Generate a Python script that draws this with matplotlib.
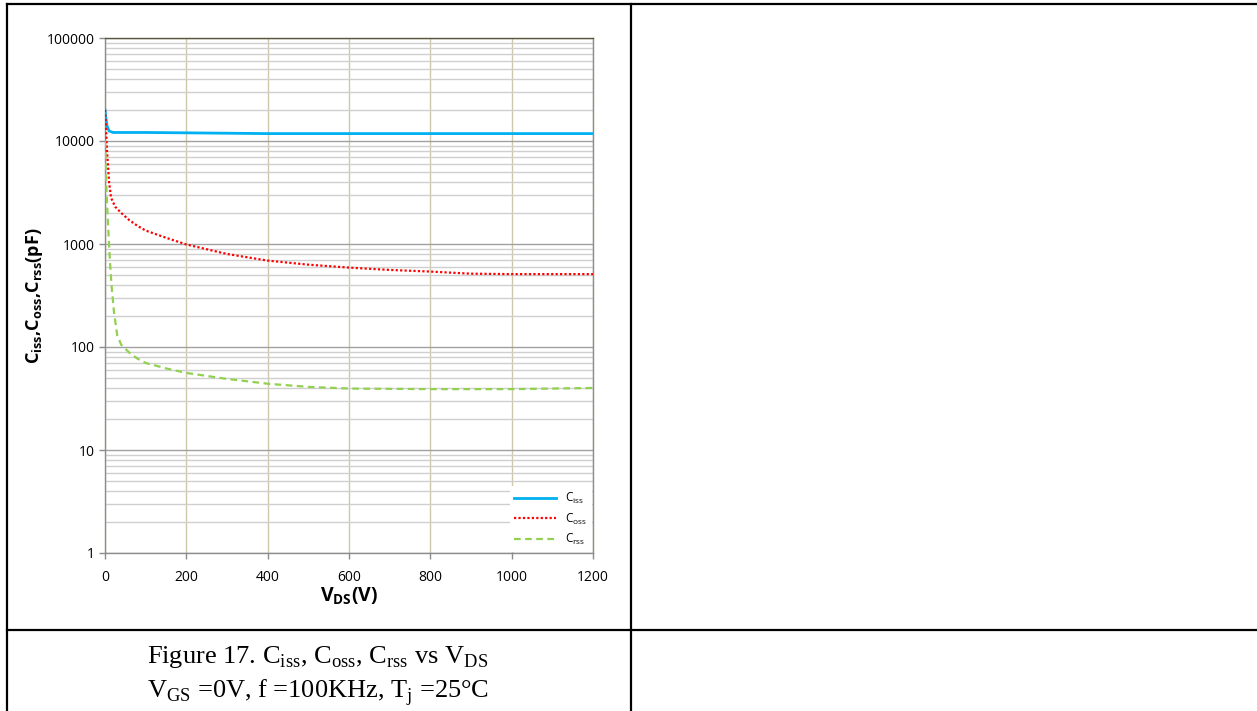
import numpy as np
import matplotlib.pyplot as plt
from matplotlib.lines import Line2D
from matplotlib.ticker import LogLocator, NullFormatter, FixedLocator

# ============================================================
# Plot settings
# ============================================================
plt.rcParams['font.family'] = ['Open Sans', 'DejaVu Sans']
plt.rcParams['axes.linewidth'] = 1.0

# ============================================================
# Data
# ============================================================
vds_iss = [0, 2, 5, 10, 20, 50, 100, 200, 400, 600, 800, 1000, 1200]
c_iss = [20000, 17000, 14000, 12500, 12100, 12100, 12100, 12000, 11800, 11800, 11800, 11800, 11800]

vds_oss = [0, 2, 5, 10, 15, 25, 40, 60, 80, 100, 150, 200, 300, 400, 500, 600, 700, 800, 900, 1000, 1100, 1200]
c_oss = [20000, 15000, 8000, 4000, 2800, 2300, 2000, 1700, 1500, 1350, 1150, 990, 800, 690, 630, 590,
         560, 540, 515, 510, 510, 510]

vds_rss = [0, 2, 5, 8, 12, 16, 22, 30, 40, 60, 80, 100, 150, 200, 300, 400, 500, 600, 800, 1000, 1200]
c_rss = [10000, 5000, 2500, 1400, 700, 400, 220, 130, 105, 88, 77, 70, 62, 56, 49, 44, 41, 39.5, 39, 39, 40]

x_ticks = [0, 200, 400, 600, 800, 1000, 1200]
y_ticks = [1, 10, 100, 1000, 10000, 100000]
y_ticklabels = ["1", "10", "100", "1000", "10000", "100000"]

series_labels = [r"C$_\mathregular{iss}$", r"C$_\mathregular{oss}$", r"C$_\mathregular{rss}$"]

# ============================================================
# Figure / table frame
# ============================================================
W, H = 1257, 711
fig = plt.figure(figsize=(W / 100, H / 100), dpi=100)

def px_line(x0, y0, x1, y1):
    fig.add_artist(Line2D([x0 / W, x1 / W], [1 - y0 / H, 1 - y1 / H],
                          color="black", lw=1.6, transform=fig.transFigure))

px_line(7, 4, 1257, 4)       # top
px_line(7, 4, 7, 711)        # left
px_line(631, 4, 631, 711)    # middle
px_line(7, 630, 1257, 630)   # row separator

# ============================================================
# Chart
# ============================================================
ax = fig.add_axes([105 / W, 1 - 553 / H, (593 - 105) / W, (553 - 38) / H])

ax.plot(vds_iss, c_iss, color="#00B0F0", lw=2.0, label=series_labels[0], zorder=5)
ax.plot(vds_oss, c_oss, color="#FF0000", lw=1.6, linestyle=(0, (1, 1)), label=series_labels[1], zorder=5)
ax.plot(vds_rss, c_rss, color="#92D050", lw=1.6, linestyle=(0, (3, 2)), label=series_labels[2], zorder=5)

ax.set_yscale("log")
ax.set_xlim(0, 1200)
ax.set_ylim(1, 100000)

ax.xaxis.set_major_locator(FixedLocator(x_ticks))
ax.set_xticklabels([str(v) for v in x_ticks])
ax.yaxis.set_major_locator(FixedLocator(y_ticks))
ax.set_yticklabels(y_ticklabels)
ax.yaxis.set_minor_locator(LogLocator(base=10, subs=np.arange(2, 10)))
ax.yaxis.set_minor_formatter(NullFormatter())

ax.grid(which="major", axis="y", color="#a0a0a0", lw=1.0)
ax.grid(which="minor", axis="y", color="#cfcfcf", lw=1.0)
ax.grid(which="major", axis="x", color="#cfc8a8", lw=1.0)
ax.set_axisbelow(True)

ax.tick_params(axis="both", which="major", labelsize=10, length=4, color="#8c8c8c", width=1)
ax.tick_params(axis="y", which="minor", length=0)
ax.tick_params(axis="x", pad=8)

for side in ["left", "bottom", "right"]:
    ax.spines[side].set_color("#8c8c8c")
ax.spines["top"].set_color("#5a573c")

ax.set_xlabel(r"V$_\mathregular{DS}$(V)", fontsize=14, fontweight="bold", labelpad=1)
ax.set_ylabel(r"C$_\mathregular{iss}$,C$_\mathregular{oss}$,C$_\mathregular{rss}$(pF)",
              fontsize=13, fontweight="bold", labelpad=1)

leg = ax.legend(loc="lower right", fontsize=8.5, frameon=True, fancybox=False,
                borderaxespad=0.1, handlelength=3.5, labelspacing=0.45)
leg.get_frame().set_facecolor("white")
leg.get_frame().set_edgecolor("none")
leg.get_frame().set_alpha(1.0)

# ============================================================
# Caption
# ============================================================
serif = ["Liberation Serif", "DejaVu Serif"]
fig.text(318 / W, 1 - 657 / H,
         r"Figure 17. C$_\mathregular{iss}$, C$_\mathregular{oss}$, C$_\mathregular{rss}$ vs V$_\mathregular{DS}$",
         family=serif, fontsize=19, ha="center", va="center")
fig.text(318 / W, 1 - 692 / H,
         r"V$_\mathregular{GS}$ =0V, f =100KHz, T$_\mathregular{j}$ =25°C",
         family=serif, fontsize=19, ha="center", va="center")

fig.savefig("out.png", dpi=100)
